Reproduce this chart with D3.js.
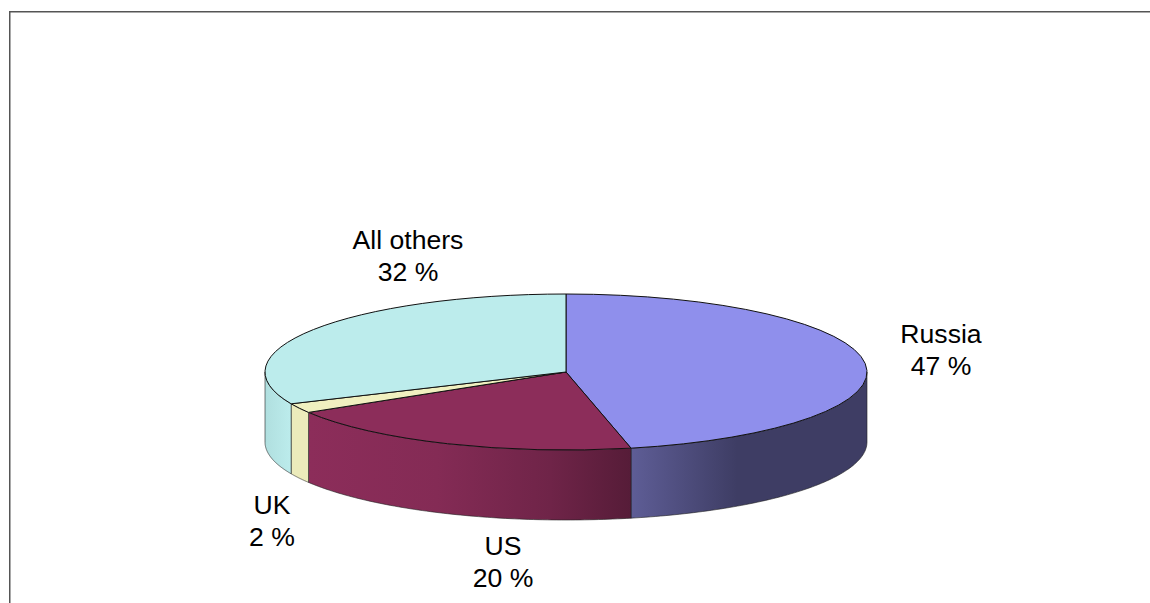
<!DOCTYPE html>
<html>
<head>
<meta charset="utf-8">
<script src="https://cdn.jsdelivr.net/npm/d3@7/dist/d3.min.js"></script>
<style>html,body{margin:0;padding:0;background:#fff}svg{display:block}text{font-family:"Liberation Sans",Arial,sans-serif;font-size:26.6px;fill:#000}</style>
</head>
<body>
<svg id="c" width="1150" height="603"></svg>
<script>
const categories = ["Russia", "US", "UK", "All others"];
const values = [47, 20, 2, 32];
const valueLabels = ["47 %", "20 %", "2 %", "32 %"];
const topColors = ["#8f8fec", "#8c2d5a", "#f0f0c0", "#bcecec"];
const sideStops = [
  [[0, "#5e5d96"], [0.45, "#3e3d64"], [1, "#3e3d64"]],
  [[0, "#8c2d5a"], [0.4, "#842b55"], [0.75, "#6f2448"], [1, "#561c38"]],
  [[0, "#ecebbb"], [1, "#ecebbb"]],
  [[0, "#b0dfdf"], [1, "#bcecec"]]
];
const labelPos = [[941, 334], [503, 546], [272, 505], [408, 240]];

const W = 1150, H = 603, cx = 566, cy = 372, rx = 301, ry = 78, depth = 70;
const svg = d3.select("#c");
const defs = svg.append("defs");

svg.append("path")
  .attr("d", `M9.75,${H} V11.75 H${W}`)
  .attr("fill", "none").attr("stroke", "#555").attr("stroke-width", 1.5);

const pie = d3.pie().sort(null).value(d => d);
const arcs = pie(values);
const px = a => cx + rx * Math.sin(a);
const py = a => cy - ry * Math.cos(a);

// side walls, only the front half of the rim (angles PI/2 .. 3PI/2) is visible
const sides = svg.append("g");
arcs.forEach((d, i) => {
  const a0 = Math.max(d.startAngle, Math.PI / 2);
  const a1 = Math.min(d.endAngle, 3 * Math.PI / 2);
  if (a1 <= a0) return;
  const angles = d3.range(0, 81).map(k => a0 + (a1 - a0) * k / 80);
  const xs = angles.map(px);
  const id = "side" + i;
  const g = defs.append("linearGradient").attr("id", id)
    .attr("gradientUnits", "userSpaceOnUse")
    .attr("x1", d3.min(xs)).attr("x2", d3.max(xs)).attr("y1", 0).attr("y2", 0);
  sideStops[i].forEach(s => g.append("stop").attr("offset", s[0]).attr("stop-color", s[1]));
  const top = angles.map(a => [px(a), py(a)]);
  const bottom = angles.slice().reverse().map(a => [px(a), py(a) + depth]);
  sides.append("path")
    .attr("d", d3.line()(top.concat(bottom)) + "Z")
    .attr("fill", `url(#${id})`)
    .attr("stroke", "#222").attr("stroke-opacity", 0.6).attr("stroke-width", 1).attr("stroke-linejoin", "round");
});

// top face
const arc = d3.arc().innerRadius(0).outerRadius(rx);
svg.append("g")
  .attr("transform", `translate(${cx},${cy}) scale(1,${ry / rx})`)
  .selectAll("path").data(arcs).join("path")
  .attr("d", arc)
  .attr("fill", (d, i) => topColors[i])
  .attr("stroke", "#111").attr("stroke-width", 1)
  .attr("vector-effect", "non-scaling-stroke");

// labels
const lab = svg.append("g").attr("text-anchor", "middle");
categories.forEach((c, i) => {
  lab.append("text").attr("x", labelPos[i][0]).attr("y", labelPos[i][1] + 9).text(c);
  lab.append("text").attr("x", labelPos[i][0]).attr("y", labelPos[i][1] + 41).text(valueLabels[i]);
});
</script>
</body>
</html>
